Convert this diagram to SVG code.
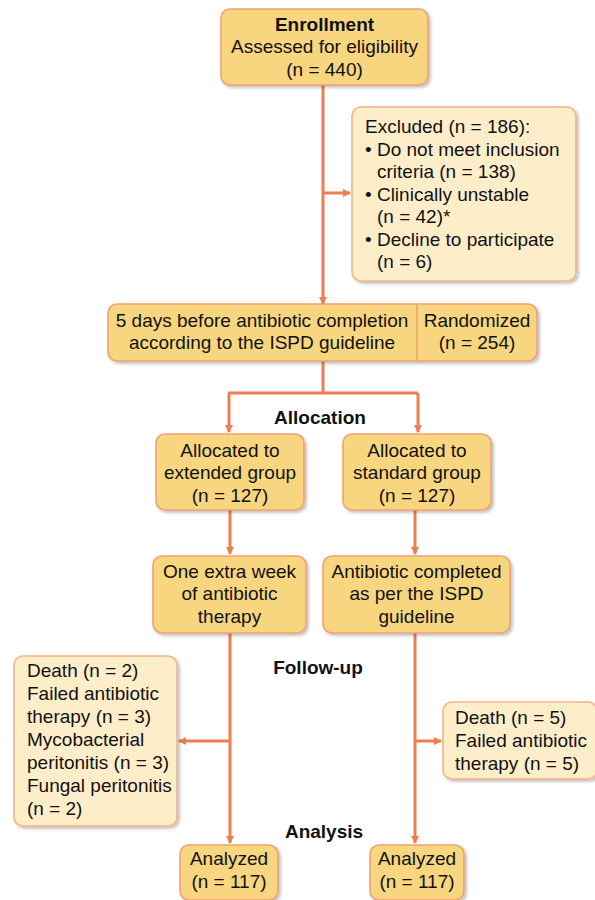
<svg xmlns="http://www.w3.org/2000/svg" width="595" height="900" viewBox="0 0 595 900">
<style>
.box{fill:#f8d67f;stroke:#f0a172;stroke-width:1.6;filter:url(#sh)}
.lbox{fill:#fdeec9;stroke:#f3b389;stroke-width:1.6;filter:url(#sh)}
.t{font-family:"Liberation Sans",Arial,sans-serif;font-size:19px;fill:#111}
.c{text-anchor:middle}
.b{font-weight:bold}
.h{font-family:"Liberation Sans",Arial,sans-serif;font-size:19px;font-weight:bold;fill:#111;text-anchor:middle}
.ln{stroke:#ee7e51;stroke-width:3;fill:none}
</style>
<defs>
<filter id="sh" x="-10%" y="-10%" width="130%" height="130%">
<feDropShadow dx="2" dy="2" stdDeviation="1.5" flood-color="#000" flood-opacity="0.25"/>
</filter>
<marker id="ah" markerWidth="8" markerHeight="8" refX="7" refY="4" orient="auto" markerUnits="userSpaceOnUse">
<path d="M0,0 L8,4 L0,8 Z" fill="#ee7e51"/>
</marker>
</defs>
<rect width="595" height="900" fill="#fff"/>
<g id="connectors">
<path class="ln" d="M323,85 V304" marker-end="url(#ah)"/>
<path class="ln" d="M323,193 H350" marker-end="url(#ah)"/>
<path class="ln" d="M323,361 V393 M228,393 H418"/>
<path class="ln" d="M229,393 V432" marker-end="url(#ah)"/>
<path class="ln" d="M418,393 V432" marker-end="url(#ah)"/>
<path class="ln" d="M230,510 V554" marker-end="url(#ah)"/>
<path class="ln" d="M415,510 V554" marker-end="url(#ah)"/>
<path class="ln" d="M230,633 V843" marker-end="url(#ah)"/>
<path class="ln" d="M415,633 V843" marker-end="url(#ah)"/>
<path class="ln" d="M230,741 H179" marker-end="url(#ah)"/>
<path class="ln" d="M415,741 H441" marker-end="url(#ah)"/>
</g>
<g id="enrollment">
<rect class="box" x="221" y="9" width="207" height="76" rx="9"/>
<text class="t c b" x="324.5" y="31">Enrollment</text>
<text class="t c" x="324.5" y="53">Assessed for eligibility</text>
<text class="t c" x="324.5" y="76">(n = 440)</text>
</g>
<g id="excluded">
<rect class="lbox" x="352" y="107" width="224" height="174" rx="9"/>
<text class="t" x="365" y="133">Excluded (n = 186):</text>
<text class="t" x="365" y="155.5">• Do not meet inclusion</text>
<text class="t" x="377" y="178">criteria (n = 138)</text>
<text class="t" x="365" y="200.5">• Clinically unstable</text>
<text class="t" x="377" y="223">(n = 42)*</text>
<text class="t" x="365" y="245.5">• Decline to participate</text>
<text class="t" x="377" y="268">(n = 6)</text>
</g>
<g id="randomized">
<rect class="box" x="108" y="304" width="429" height="57" rx="9"/>
<line x1="417" y1="304" x2="417" y2="361" stroke="#f0a172" stroke-width="1.6"/>
<text class="t c" x="262" y="327">5 days before antibiotic completion</text>
<text class="t c" x="262" y="349">according to the ISPD guideline</text>
<text class="t c" x="477" y="327">Randomized</text>
<text class="t c" x="477" y="349">(n = 254)</text>
</g>
<text class="h" x="320" y="424">Allocation</text>
<g id="alloc-extended">
<rect class="box" x="156" y="434" width="148" height="76" rx="9"/>
<text class="t c" x="230" y="457">Allocated to</text>
<text class="t c" x="230" y="479">extended group</text>
<text class="t c" x="230" y="502">(n = 127)</text>
</g>
<g id="alloc-standard">
<rect class="box" x="343" y="434" width="148" height="76" rx="9"/>
<text class="t c" x="417" y="457">Allocated to</text>
<text class="t c" x="417" y="479">standard group</text>
<text class="t c" x="417" y="502">(n = 127)</text>
</g>
<g id="extra-week">
<rect class="box" x="153" y="556" width="153" height="77" rx="9"/>
<text class="t c" x="229.5" y="578">One extra week</text>
<text class="t c" x="229.5" y="600">of antibiotic</text>
<text class="t c" x="229.5" y="623">therapy</text>
</g>
<g id="completed">
<rect class="box" x="323" y="556" width="187" height="77" rx="9"/>
<text class="t c" x="416.5" y="578">Antibiotic completed</text>
<text class="t c" x="416.5" y="600">as per the ISPD</text>
<text class="t c" x="416.5" y="623">guideline</text>
</g>
<text class="h" x="318" y="674">Follow-up</text>
<g id="lost-extended">
<rect class="lbox" x="14" y="656" width="163" height="170" rx="9"/>
<text class="t" x="27" y="677">Death (n = 2)</text>
<text class="t" x="27" y="700">Failed antibiotic</text>
<text class="t" x="27" y="723">therapy (n = 3)</text>
<text class="t" x="27" y="746">Mycobacterial</text>
<text class="t" x="27" y="769">peritonitis (n = 3)</text>
<text class="t" x="27" y="792">Fungal peritonitis</text>
<text class="t" x="27" y="815">(n = 2)</text>
</g>
<g id="lost-standard">
<rect class="lbox" x="443" y="702" width="154" height="77" rx="9"/>
<text class="t" x="455" y="724">Death (n = 5)</text>
<text class="t" x="455" y="747">Failed antibiotic</text>
<text class="t" x="455" y="770">therapy (n = 5)</text>
</g>
<text class="h" x="324" y="838">Analysis</text>
<g id="analyzed-extended">
<rect class="box" x="180" y="845" width="98" height="55" rx="9"/>
<text class="t c" x="229" y="865">Analyzed</text>
<text class="t c" x="229" y="888">(n = 117)</text>
</g>
<g id="analyzed-standard">
<rect class="box" x="370" y="845" width="94" height="55" rx="9"/>
<text class="t c" x="417" y="865">Analyzed</text>
<text class="t c" x="417" y="888">(n = 117)</text>
</g>
</svg>
